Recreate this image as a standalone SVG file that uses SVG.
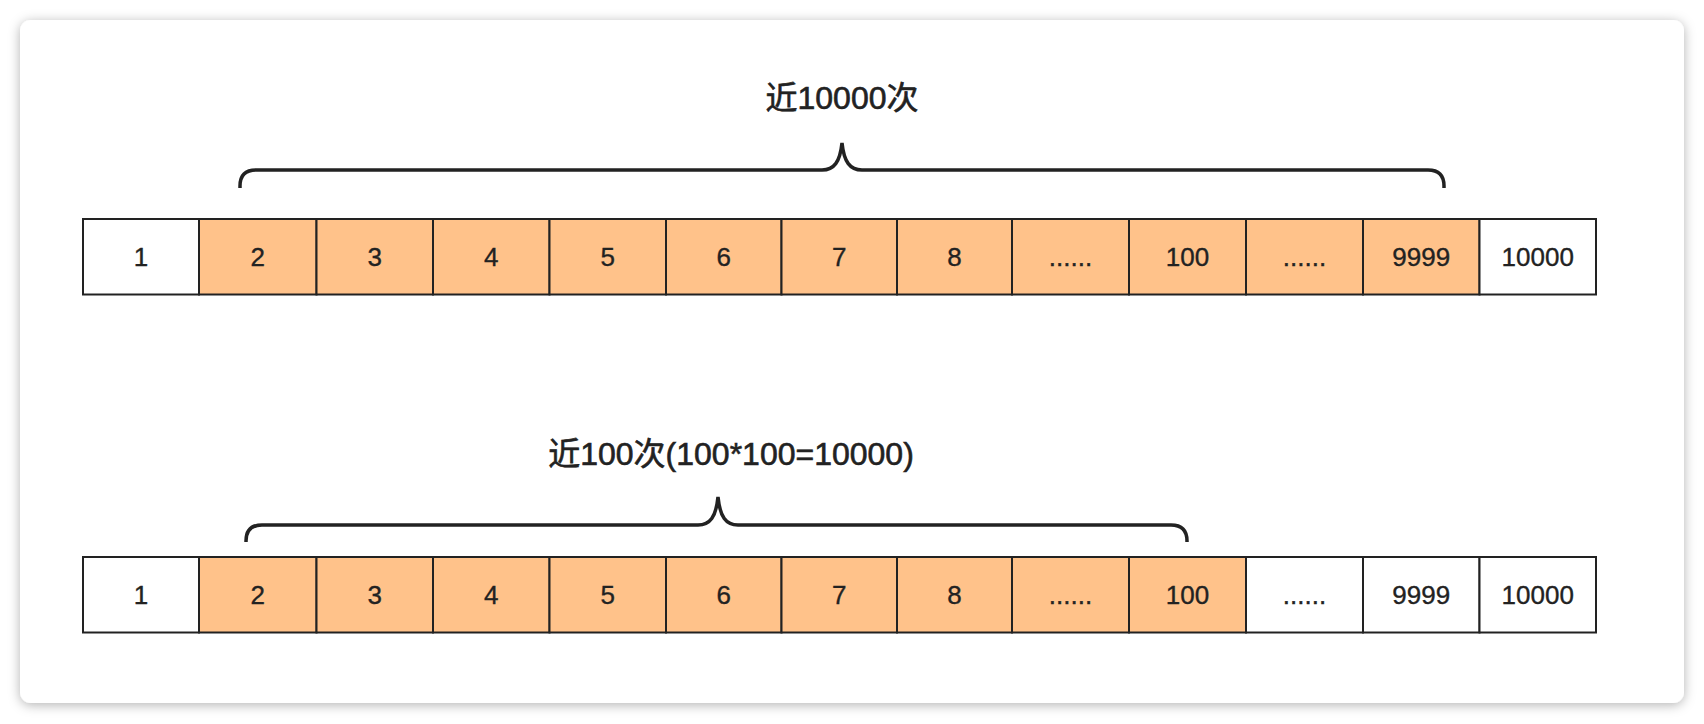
<svg xmlns="http://www.w3.org/2000/svg" width="1704" height="724" viewBox="0 0 1704 724">
<defs>
<filter id="sh" x="-5%" y="-5%" width="110%" height="110%">
<feDropShadow dx="0" dy="2" stdDeviation="6" flood-color="#000" flood-opacity="0.3"/>
</filter>
</defs>
<style>
.c{stroke:#222;stroke-width:2}
.o{fill:#FFC28A}
.w{fill:#fff}
.t{font-family:"Liberation Sans",Arial,sans-serif;font-size:26px;fill:#222;stroke:#222;stroke-width:0.35;text-anchor:middle}
.h{font-family:"Liberation Sans","Noto Sans CJK SC",sans-serif;font-size:32px;fill:#222;stroke:#222;stroke-width:0.6;text-anchor:middle}
.b{fill:none;stroke:#222;stroke-width:3.5;stroke-linecap:butt}
</style>
<rect x="0" y="0" width="1704" height="724" fill="#fff"/>
<rect id="card" x="20" y="20" width="1664" height="683" rx="11" fill="#fff" filter="url(#sh)"/>

<g id="label1"><text class="h" x="842" y="109">近10000次</text></g>
<g id="label2"><text class="h" x="731" y="465">近100次(100*100=10000)</text></g>

<g id="connectors">
<path class="b" d="M240,188 V186 Q240,170 256,170 H822 C834,170 840,162 842,143 C844,162 850,170 862,170 H1428 Q1444,170 1444,186 V188"/>
<path class="b" d="M246,542 V541 Q246,525 262,525 H698 C710,525 716,517 718,497 C720,517 726,525 738,525 H1171 Q1187,525 1187,541 V542"/>
</g>

<g id="row1">
<g id="r1c1"><rect class="c w" x="83" y="219" width="116" height="75.5"/><text class="t" x="141" y="266">1</text></g>
<g id="r1c2"><rect class="c o" x="199" y="219" width="117.5" height="75.5"/><text class="t" x="257.75" y="266">2</text></g>
<g id="r1c3"><rect class="c o" x="316.5" y="219" width="116.5" height="75.5"/><text class="t" x="374.75" y="266">3</text></g>
<g id="r1c4"><rect class="c o" x="433" y="219" width="116.5" height="75.5"/><text class="t" x="491.25" y="266">4</text></g>
<g id="r1c5"><rect class="c o" x="549.5" y="219" width="116.5" height="75.5"/><text class="t" x="607.75" y="266">5</text></g>
<g id="r1c6"><rect class="c o" x="666" y="219" width="115.5" height="75.5"/><text class="t" x="723.75" y="266">6</text></g>
<g id="r1c7"><rect class="c o" x="781.5" y="219" width="115.5" height="75.5"/><text class="t" x="839.25" y="266">7</text></g>
<g id="r1c8"><rect class="c o" x="897" y="219" width="115" height="75.5"/><text class="t" x="954.5" y="266">8</text></g>
<g id="r1c9"><rect class="c o" x="1012" y="219" width="117" height="75.5"/><text class="t" x="1070.5" y="266">......</text></g>
<g id="r1c10"><rect class="c o" x="1129" y="219" width="117" height="75.5"/><text class="t" x="1187.5" y="266">100</text></g>
<g id="r1c11"><rect class="c o" x="1246" y="219" width="117" height="75.5"/><text class="t" x="1304.5" y="266">......</text></g>
<g id="r1c12"><rect class="c o" x="1363" y="219" width="116.5" height="75.5"/><text class="t" x="1421.25" y="266">9999</text></g>
<g id="r1c13"><rect class="c w" x="1479.5" y="219" width="116.5" height="75.5"/><text class="t" x="1537.75" y="266">10000</text></g>
</g>

<g id="row2">
<g id="r2c1"><rect class="c w" x="83" y="557" width="116" height="75.5"/><text class="t" x="141" y="604">1</text></g>
<g id="r2c2"><rect class="c o" x="199" y="557" width="117.5" height="75.5"/><text class="t" x="257.75" y="604">2</text></g>
<g id="r2c3"><rect class="c o" x="316.5" y="557" width="116.5" height="75.5"/><text class="t" x="374.75" y="604">3</text></g>
<g id="r2c4"><rect class="c o" x="433" y="557" width="116.5" height="75.5"/><text class="t" x="491.25" y="604">4</text></g>
<g id="r2c5"><rect class="c o" x="549.5" y="557" width="116.5" height="75.5"/><text class="t" x="607.75" y="604">5</text></g>
<g id="r2c6"><rect class="c o" x="666" y="557" width="115.5" height="75.5"/><text class="t" x="723.75" y="604">6</text></g>
<g id="r2c7"><rect class="c o" x="781.5" y="557" width="115.5" height="75.5"/><text class="t" x="839.25" y="604">7</text></g>
<g id="r2c8"><rect class="c o" x="897" y="557" width="115" height="75.5"/><text class="t" x="954.5" y="604">8</text></g>
<g id="r2c9"><rect class="c o" x="1012" y="557" width="117" height="75.5"/><text class="t" x="1070.5" y="604">......</text></g>
<g id="r2c10"><rect class="c o" x="1129" y="557" width="117" height="75.5"/><text class="t" x="1187.5" y="604">100</text></g>
<g id="r2c11"><rect class="c w" x="1246" y="557" width="117" height="75.5"/><text class="t" x="1304.5" y="604">......</text></g>
<g id="r2c12"><rect class="c w" x="1363" y="557" width="116.5" height="75.5"/><text class="t" x="1421.25" y="604">9999</text></g>
<g id="r2c13"><rect class="c w" x="1479.5" y="557" width="116.5" height="75.5"/><text class="t" x="1537.75" y="604">10000</text></g>
</g>
</svg>
